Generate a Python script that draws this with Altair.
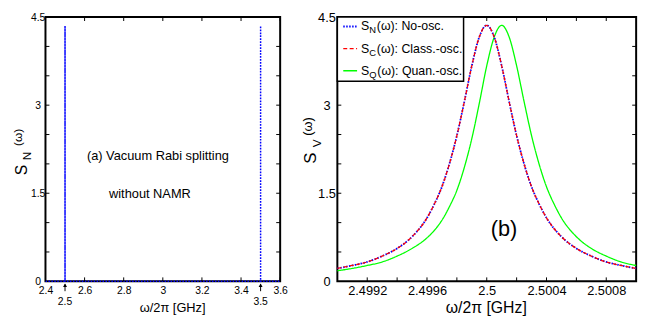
import altair as alt
import pandas as pd

# ---------------- data: panel (a) ----------------
a_x = [2.4, 2.5, 2.5, 2.5, 3.5, 3.5, 3.5, 3.6]
a_y = [0.0, 0.0, 4.35, 0.0, 0.0, 4.35, 0.0, 0.0]
a_peaks = [2.5, 3.5]
a_peak_labels = ["2.5", "3.5"]
a_xticks = [2.4, 2.6, 2.8, 3.0, 3.2, 3.4, 3.6]
a_yticks = [0.5, 1.0, 1.5, 2.0, 2.5, 3.0, 3.5, 4.0]
a_ylabels = [0, 1.5, 3, 4.5]
a_text = ["(a) Vacuum Rabi splitting", "without NAMR"]
a_text_x = [2.975, 2.934]
a_text_y = [2.13, 1.48]

# ---------------- data: panel (b) ----------------
b_freq = [2.4990, 2.4991, 2.4992, 2.4993, 2.4994, 2.4995, 2.4996, 2.49965,
          2.4997, 2.49975, 2.4998, 2.49985, 2.4999, 2.49995, 2.5000, 2.50005,
          2.5001, 2.50015, 2.5002, 2.50025, 2.5003, 2.50035, 2.5004, 2.50045,
          2.5005, 2.5006, 2.5007, 2.5008, 2.5009, 2.5010]
b_sn = [0.22, 0.27, 0.33, 0.43, 0.56, 0.76, 1.08, 1.32, 1.61, 2.00, 2.48, 3.06,
        3.67, 4.16, 4.36, 4.16, 3.67, 3.06, 2.48, 2.00, 1.61, 1.32, 1.08, 0.90,
        0.76, 0.56, 0.43, 0.33, 0.27, 0.22]
b_sc = [0.22, 0.27, 0.33, 0.43, 0.56, 0.76, 1.08, 1.32, 1.61, 2.00, 2.48, 3.06,
        3.67, 4.16, 4.36, 4.16, 3.67, 3.06, 2.48, 2.00, 1.61, 1.32, 1.08, 0.90,
        0.76, 0.56, 0.43, 0.33, 0.27, 0.22]
b_sq = [0.18, 0.22, 0.27, 0.33, 0.43, 0.56, 0.74, 0.87, 1.04, 1.27, 1.55, 1.94,
        2.43, 3.03, 3.67, 4.16, 4.36, 4.16, 3.67, 3.06, 2.48, 2.00, 1.61, 1.32,
        1.08, 0.76, 0.56, 0.43, 0.33, 0.27]
b_xticks = [2.4992, 2.4994, 2.4996, 2.4998, 2.5, 2.5002, 2.5004, 2.5006, 2.5008]
b_xlabels = [2.4992, 2.4996, 2.5, 2.5004, 2.5008]
b_yticks = [0.5, 1.0, 1.5, 2.0, 2.5, 3.0, 3.5, 4.0]
b_ylabels = [0, 1.5, 3, 4.5]
series_names = ["N", "C", "Q"]
series_rest = ["(\u03c9): No-osc.", "(\u03c9): Class.-osc.", "(\u03c9): Quan.-osc."]
series_colors = ["#0000ff", "#ff0000", "#00ff00"]
series_dash = [[1.5, 1.5], [4, 2.5], [1, 0]]
b_label = "(b)"
b_label_x = 2.500116
b_label_y = 0.89

FONT = "Liberation Sans"
WA, WB, H = 238, 303, 268
TICK = 4


def one(**kw):
    return pd.DataFrame({k: [v] for k, v in kw.items()})


def inner_ticks(xs, ys, xvals, yvals, w, h, xenc_axis, yenc_axis):
    dx = pd.DataFrame({"x": xvals})
    dy = pd.DataFrame({"y": yvals})
    X = alt.X("x:Q", scale=xs, axis=xenc_axis)
    Y = alt.Y("y:Q", scale=ys, axis=yenc_axis)
    layers = []
    for y0, y1 in [(0, TICK), (h - TICK, h)]:
        layers.append(alt.Chart(dx).mark_rule(color="black", strokeWidth=1).encode(
            x=X, y=alt.value(y0), y2=alt.value(y1)))
    for x0, x1 in [(0, TICK), (w - TICK, w)]:
        layers.append(alt.Chart(dy).mark_rule(color="black", strokeWidth=1).encode(
            y=Y, x=alt.value(x0), x2=alt.value(x1)))
    return layers


def ytitle(sub, sizes, pos):
    (sx, sy), (nx, ny), (wx, wy) = pos
    fs_main, fs_sub, fs_w = sizes
    L = []
    for t, fs, (px, py) in [("S", fs_main, (sx, sy)), (sub, fs_sub, (nx, ny)), ("(\u03c9)", fs_w, (wx, wy))]:
        L.append(alt.Chart(one(t=t)).mark_text(angle=270, font=FONT, fontSize=fs, color="black").encode(
            text="t:N", x=alt.value(px), y=alt.value(py)))
    return L


# ---------------- panel (a) ----------------
xs_a = alt.Scale(domain=[2.4, 3.6], nice=False, zero=False)
ys_a = alt.Scale(domain=[0, 4.5], nice=False)
xax_a = alt.Axis(values=a_xticks, format=".1~f", title=None, ticks=False, domain=False, grid=False,
                 labelFont=FONT, labelFontSize=10.5, labelPadding=4, labelColor="black",
                 labelFlush=False, labelOverlap=False)
yax_a = alt.Axis(values=a_ylabels, format=".1~f", title=None, ticks=False, domain=False, grid=False,
                 labelFont=FONT, labelFontSize=10.5, labelPadding=8, labelAlign="center", labelColor="black",
                 labelFlush=False, labelOverlap=False)
XA = alt.X("x:Q", scale=xs_a, axis=xax_a)
YA = alt.Y("y:Q", scale=ys_a, axis=yax_a)

df_a = pd.DataFrame({"x": a_x, "y": a_y, "i": list(range(len(a_x)))})
la = []
la.append(alt.Chart(df_a).mark_line(color="#0000ff", strokeWidth=1.5, strokeDash=[1.5, 1.5]).encode(
    x=XA, y=YA, order="i:Q"))
la += inner_ticks(xs_a, ys_a, a_xticks, a_yticks, WA, H, xax_a, yax_a)
df_pk = pd.DataFrame({"x": a_peaks, "t": a_peak_labels})
la.append(alt.Chart(df_pk).mark_rule(color="black", strokeWidth=1).encode(
    x=XA, y=alt.value(H + 3), y2=alt.value(H + 10)))
la.append(alt.Chart(df_pk).mark_point(shape="triangle-up", filled=True, size=16, color="black", opacity=1).encode(
    x=XA, y=alt.value(H + 4)))
la.append(alt.Chart(df_pk).mark_text(font=FONT, fontSize=10.5, color="black").encode(
    x=XA, y=alt.value(H + 21), text="t:N"))
df_at = pd.DataFrame({"x": a_text_x, "y": a_text_y, "t": a_text})
la.append(alt.Chart(df_at).mark_text(font=FONT, fontSize=13, color="black").encode(
    x=XA, y=YA, text="t:N"))
la.append(alt.Chart(one(t="\u03c9/2\u03c0 [GHz]")).mark_text(font=FONT, fontSize=13, color="black").encode(
    x=alt.value(129), y=alt.value(H + 27), text="t:N"))
la += ytitle("N", (16, 12, 12), ((-24, 155), (-19, 141), (-28, 122)))
panel_a = alt.layer(*la).properties(width=WA, height=H)

# ---------------- panel (b) ----------------
xs_b = alt.Scale(domain=[2.4990, 2.5010], nice=False, zero=False)
ys_b = alt.Scale(domain=[0, 4.5], nice=False)
xax_b = alt.Axis(values=b_xlabels, format=".4~f", title=None, ticks=False, domain=False, grid=False,
                 labelFont=FONT, labelFontSize=13, labelPadding=3, labelColor="black",
                 labelFlush=False, labelOverlap=False)
yax_b = alt.Axis(values=b_ylabels, format=".1~f", title=None, ticks=False, domain=False, grid=False,
                 labelFont=FONT, labelFontSize=13, labelPadding=11, labelAlign="center", labelColor="black",
                 labelFlush=False, labelOverlap=False)
XB = alt.X("x:Q", scale=xs_b, axis=xax_b)
YB = alt.Y("y:Q", scale=ys_b, axis=yax_b)

lb = []
lb += inner_ticks(xs_b, ys_b, b_xticks, b_yticks, WB, H, xax_b, yax_b)
curves = [b_sn, b_sc, b_sq]
order = [2, 0, 1]
widths = [1.8, 1.3, 1.3]
for k in order:
    dfc = pd.DataFrame({"x": b_freq, "y": curves[k]})
    lb.append(alt.Chart(dfc).mark_line(color=series_colors[k], strokeWidth=widths[k],
                                       strokeDash=series_dash[k], interpolate="monotone").encode(x=XB, y=YB))
lb.append(alt.Chart(one(x=b_label_x, y=b_label_y, t=b_label)).mark_text(font=FONT, fontSize=22, color="black").encode(
    x=XB, y=YB, text="t:N"))
# legend box
lb.append(alt.Chart(one(a=0)).mark_rect(fill="white", stroke="black", strokeWidth=1.5).encode(
    x=alt.value(0), x2=alt.value(128), y=alt.value(0), y2=alt.value(65)))
rest_x = [40, 40, 40.5]
for k in range(3):
    ry = 9.5 + 22.5 * k
    lb.append(alt.Chart(one(a=0)).mark_rule(color=series_colors[k], strokeWidth=2 if k == 0 else 1.4,
                                            strokeDash=series_dash[k]).encode(
        x=alt.value(6), x2=alt.value(20), y=alt.value(ry)))
    lb.append(alt.Chart(one(t="S")).mark_text(font=FONT, fontSize=12.5, align="left", color="black").encode(
        x=alt.value(24), y=alt.value(ry), text="t:N"))
    lb.append(alt.Chart(one(t=series_names[k])).mark_text(font=FONT, fontSize=9.5, align="left", color="black").encode(
        x=alt.value(32.3), y=alt.value(ry + 4), text="t:N"))
    lb.append(alt.Chart(one(t=series_rest[k])).mark_text(font=FONT, fontSize=12.5, align="left", color="black").encode(
        x=alt.value(rest_x[k]), y=alt.value(ry), text="t:N"))
lb.append(alt.Chart(one(t="\u03c9/2\u03c0 [GHz]")).mark_text(font=FONT, fontSize=16, color="black").encode(
    x=alt.value(151), y=alt.value(H + 27), text="t:N"))
lb += ytitle("V", (17, 12, 13), ((-27, 143), (-21, 128), (-30, 111)))
panel_b = alt.layer(*lb).properties(width=WB, height=H)

chart = alt.hconcat(panel_a, panel_b, spacing=12).properties(
    padding={"left": 3, "top": 0, "right": 5, "bottom": 0},
    background="white",
).configure_view(stroke="black", strokeWidth=2)

chart.save("out.html", embed_options={"renderer": "svg", "actions": False})
